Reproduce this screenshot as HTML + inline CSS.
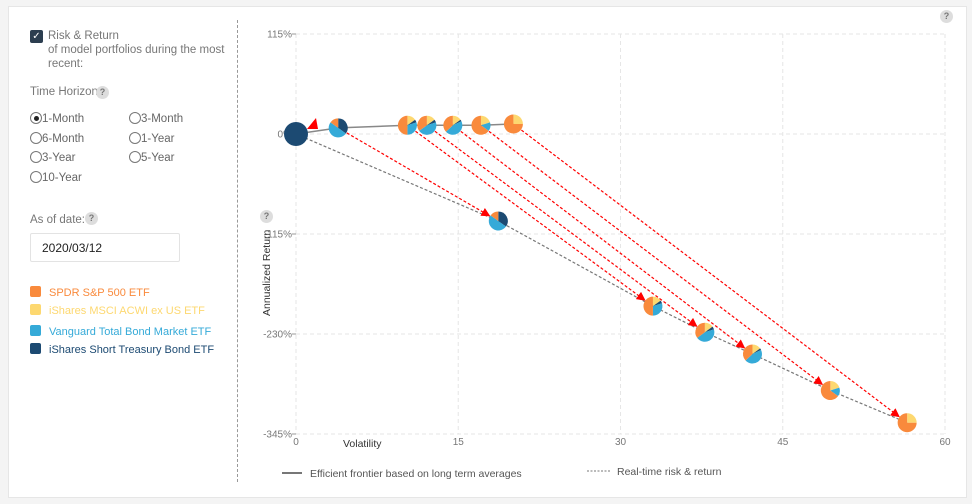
<!DOCTYPE html>
<html><head><meta charset="utf-8">
<style>
body{margin:0;background:#f4f4f4;font-family:"Liberation Sans",sans-serif;}
#card{position:absolute;left:8px;top:6px;width:957px;height:490px;background:#fff;border:1px solid #e6e6e6;}
.t{position:absolute;font-size:11.5px;color:#777;}
.q{position:absolute;width:13px;height:13px;border-radius:50%;background:#ddd;color:#777;font-size:9px;text-align:center;line-height:13px;font-weight:bold;}
.rad{position:absolute;font-size:11.5px;color:#666;}
.rad i{display:inline-block;width:12px;height:12px;border:1px solid #777;border-radius:50%;vertical-align:-2px;margin-right:0px;box-sizing:border-box;position:relative;}
.rad i.on::after{content:"";position:absolute;left:2.5px;top:2.5px;width:5px;height:5px;border-radius:50%;background:#222;}
.lg{position:absolute;font-size:11px;}
.lg b{display:inline-block;width:11px;height:11px;border-radius:2px;vertical-align:-1px;margin-right:8px;}
</style></head><body>
<div id="card"></div>
<div style="position:absolute;left:30px;top:30px;width:13px;height:13px;background:#2c3e50;border-radius:2px;color:#fff;font-size:10px;text-align:center;line-height:13px;">✓</div>
<div class="t" style="left:48px;top:29px;line-height:14px;">Risk &amp; Return<br>of model portfolios during the most<br>recent:</div>
<div class="t" style="left:30px;top:86px;">Time Horizon</div>
<div class="q" style="left:96px;top:86px;">?</div>
<div class="rad" style="left:30px;top:112px;"><i class="on"></i>1-Month</div>
<div class="rad" style="left:129px;top:112px;"><i></i>3-Month</div>
<div class="rad" style="left:30px;top:132px;"><i></i>6-Month</div>
<div class="rad" style="left:129px;top:132px;"><i></i>1-Year</div>
<div class="rad" style="left:30px;top:151px;"><i></i>3-Year</div>
<div class="rad" style="left:129px;top:151px;"><i></i>5-Year</div>
<div class="rad" style="left:30px;top:171px;"><i></i>10-Year</div>
<div class="t" style="left:30px;top:214px;">As of date:</div>
<div class="q" style="left:85px;top:212px;">?</div>
<div style="position:absolute;left:30px;top:233px;height:29px;border:1px solid #e3e3e3;border-radius:2px;font-size:12px;color:#222;line-height:28px;padding-left:11px;box-sizing:border-box;width:150px;">2020/03/12</div>
<div class="lg" style="left:30px;top:286px;color:#f98a3c;"><b style="background:#f98a3c"></b>SPDR S&amp;P 500 ETF</div>
<div class="lg" style="left:30px;top:304px;color:#fdd870;"><b style="background:#fdd870"></b>iShares MSCI ACWI ex US ETF</div>
<div class="lg" style="left:30px;top:325px;color:#35aad8;"><b style="background:#35aad8"></b>Vanguard Total Bond Market ETF</div>
<div class="lg" style="left:30px;top:343px;color:#1c4a72;"><b style="background:#1c4a72"></b>iShares Short Treasury Bond ETF</div>
<div style="position:absolute;left:237px;top:20px;height:462px;border-left:1px dashed #999;"></div>
<div class="q" style="left:940px;top:10px;">?</div>
<div class="q" style="left:260px;top:210px;">?</div>
<svg id="ch" width="972" height="504" style="position:absolute;left:0;top:0">
<defs><marker id="ar" viewBox="0 0 10 10" refX="9" refY="5" markerWidth="9" markerHeight="9" markerUnits="userSpaceOnUse" orient="auto"><path d="M0,0L10,5L0,10z" fill="#f00"/></marker></defs>
</svg>
<script>
const xTicks=[0,15,30,45,60];
const yTicks=[115,0,-115,-230,-345];
const yTickLabels=["115%","0%","-115%","-230%","-345%"];
const frontierX=[0,3.9,10.3,12.1,14.5,17.1,20.1];
const frontierY=[0,7,10,10,10,10,11.5];
const realX=[0,18.7,33,37.8,42.2,49.4,56.5];
const realY=[0,-100,-198,-228,-253,-295,-332];
// pie weights order: yellow, dark, blue, orange
const pieYellow=[0,0,15,15,15,20,25];
const pieDark=[100,35,5,5,3,0,0];
const pieBlue=[0,50,30,45,45,15,0];
const pieOrange=[0,15,50,35,37,65,75];
const colors=["#fdd870","#1c4a72","#35aad8","#f98a3c"];
const X=v=>296+v*(945-296)/60;
const Y=v=>134-v*(100/115);
const svg=document.getElementById('ch');const NS="http://www.w3.org/2000/svg";
function mk(t,a,p){const e=document.createElementNS(NS,t);for(const k in a)e.setAttribute(k,a[k]);(p||svg).appendChild(e);return e;}
xTicks.forEach(v=>{const l=mk('line',{x1:X(v),x2:X(v),y1:Y(115),y2:Y(-345),stroke:'#e6e6e6','stroke-dasharray':'4,3'});

const t=mk('text',{x:X(v),y:445,'font-size':10,fill:'#777','text-anchor':'middle','font-family':'Liberation Sans'});t.textContent=v;
});
yTicks.forEach((v,i)=>{const l=mk('line',{x1:X(0),x2:X(60),y1:Y(v),y2:Y(v),stroke:'#e6e6e6','stroke-dasharray':'4,3'});

mk('line',{x1:X(0)-4,x2:X(0),y1:Y(v),y2:Y(v),stroke:'#999'});
const t=mk('text',{x:X(0)-4,y:Y(v)+3.5,'font-size':10,fill:'#777','text-anchor':'end','font-family':'Liberation Sans'});t.textContent=yTickLabels[i];
});
let t=mk('text',{x:343,y:447,'font-size':10.5,fill:'#333','font-family':'Liberation Sans'});t.textContent='Volatility';

t=mk('text',{transform:'translate(270,316) rotate(-90)','font-size':10.5,fill:'#333','font-family':'Liberation Sans'});t.textContent='Annualized Return';

let p=mk('path',{d:'M'+frontierX.map((x,i)=>X(x)+','+Y(frontierY[i])).join('L'),fill:'none',stroke:'#888','stroke-width':1.5});

p=mk('path',{d:'M'+realX.map((x,i)=>X(x)+','+Y(realY[i])).join('L'),fill:'none',stroke:'#777','stroke-width':1.2,'stroke-dasharray':'3,2'});

for(let i=1;i<frontierX.length;i++){const x1=X(frontierX[i]),y1=Y(frontierY[i]),x2=X(realX[i]),y2=Y(realY[i]);
const d=Math.hypot(x2-x1,y2-y1),r=10;
const a=mk('line',{x1:x1+(x2-x1)*r/d,y1:y1+(y2-y1)*r/d,x2:x2-(x2-x1)*r/d,y2:y2-(y2-y1)*r/d,stroke:'#f00','stroke-width':1.2,'stroke-dasharray':'3,2','marker-end':'url(#ar)'});
}
const a0=mk('path',{d:'M307,129L316,118L318,129z',fill:'#f00'});

function pie(cx,cy,r,i){const g=mk('g',{});
const w=[pieYellow[i],pieDark[i],pieBlue[i],pieOrange[i]];const tot=w.reduce((a,b)=>a+b,0);let ang=0;
w.forEach((v,k)=>{if(!v)return;if(v>=tot){mk('circle',{cx,cy,r,fill:colors[k]},g);return;}
const a1=ang,a2=ang+v/tot*2*Math.PI;ang=a2;
const p1=[cx+r*Math.sin(a1),cy-r*Math.cos(a1)],p2=[cx+r*Math.sin(a2),cy-r*Math.cos(a2)];
mk('path',{d:`M${cx},${cy}L${p1}A${r},${r} 0 ${a2-a1>Math.PI?1:0} 1 ${p2}z`,fill:colors[k]},g);});}
for(let i=0;i<frontierX.length;i++){pie(X(frontierX[i]),Y(frontierY[i]),i==0?12:9.5,i);if(i>0)pie(X(realX[i]),Y(realY[i]),9.5,i);}
mk('line',{x1:282,x2:302,y1:473,y2:473,stroke:'#777','stroke-width':2});
t=mk('text',{x:310,y:477,'font-size':10.5,fill:'#555','font-family':'Liberation Sans'});t.textContent='Efficient frontier based on long term averages';

mk('line',{x1:587,x2:610,y1:471,y2:471,stroke:'#777','stroke-width':1,'stroke-dasharray':'2,1.5'});
t=mk('text',{x:617,y:475,'font-size':10.5,fill:'#555','font-family':'Liberation Sans'});t.textContent='Real-time risk & return';

</script>
</body></html>
